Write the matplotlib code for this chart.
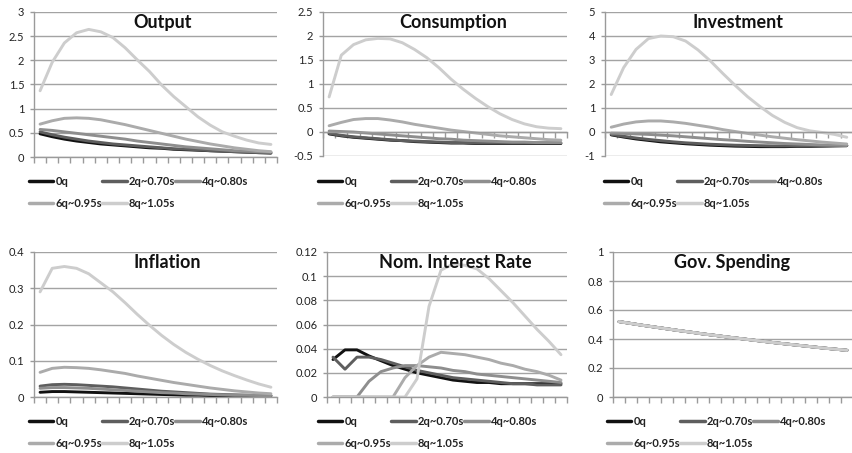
import matplotlib
matplotlib.use("Agg")
import matplotlib.pyplot as plt
from matplotlib.ticker import FuncFormatter

plt.rcParams['font.family'] = ['Lato', 'DejaVu Sans']

periods = list(range(20))
series_labels = ['0q', '2q~0.70s', '4q~0.80s', '6q~0.95s', '8q~1.05s']
series_colors = ['#111111', '#5e5e5e', '#8e8e8e', '#ababab', '#cdcdcd']

# Output
out_0q = [0.48, 0.42, 0.37, 0.33, 0.30, 0.27, 0.25, 0.23, 0.21, 0.19, 0.18, 0.16, 0.15, 0.14, 0.13, 0.12, 0.11, 0.10, 0.09, 0.08]
out_2q = [0.52, 0.46, 0.41, 0.37, 0.33, 0.30, 0.27, 0.25, 0.23, 0.21, 0.19, 0.17, 0.16, 0.15, 0.13, 0.12, 0.11, 0.10, 0.09, 0.09]
out_4q = [0.57, 0.55, 0.52, 0.49, 0.46, 0.43, 0.40, 0.37, 0.33, 0.30, 0.27, 0.24, 0.21, 0.19, 0.17, 0.15, 0.13, 0.12, 0.11, 0.10]
out_6q = [0.68, 0.75, 0.80, 0.81, 0.80, 0.77, 0.72, 0.67, 0.61, 0.55, 0.49, 0.43, 0.37, 0.32, 0.27, 0.23, 0.19, 0.16, 0.13, 0.11]
out_8q = [1.37, 1.96, 2.36, 2.57, 2.64, 2.59, 2.47, 2.26, 2.01, 1.77, 1.49, 1.25, 1.04, 0.83, 0.66, 0.52, 0.43, 0.35, 0.29, 0.26]

# Consumption
con_0q = [-0.04, -0.08, -0.11, -0.13, -0.15, -0.17, -0.18, -0.20, -0.21, -0.22, -0.23, -0.23, -0.24, -0.24, -0.24, -0.24, -0.24, -0.24, -0.24, -0.24]
con_2q = [-0.03, -0.07, -0.10, -0.12, -0.14, -0.16, -0.18, -0.19, -0.20, -0.21, -0.22, -0.22, -0.23, -0.23, -0.23, -0.23, -0.23, -0.23, -0.23, -0.23]
con_4q = [0.02, 0.01, 0.00, -0.02, -0.04, -0.06, -0.08, -0.10, -0.12, -0.14, -0.15, -0.17, -0.18, -0.19, -0.20, -0.21, -0.21, -0.22, -0.22, -0.22]
con_6q = [0.13, 0.20, 0.26, 0.28, 0.28, 0.25, 0.21, 0.16, 0.12, 0.08, 0.04, 0.01, -0.02, -0.05, -0.08, -0.10, -0.12, -0.14, -0.16, -0.17]
con_8q = [0.73, 1.60, 1.82, 1.92, 1.95, 1.94, 1.86, 1.72, 1.55, 1.34, 1.10, 0.89, 0.70, 0.53, 0.38, 0.26, 0.17, 0.11, 0.08, 0.07]

# Investment
inv_0q = [-0.12, -0.21, -0.29, -0.35, -0.41, -0.45, -0.49, -0.52, -0.55, -0.57, -0.59, -0.60, -0.61, -0.61, -0.61, -0.60, -0.60, -0.59, -0.58, -0.57]
inv_2q = [-0.10, -0.18, -0.25, -0.31, -0.36, -0.41, -0.45, -0.48, -0.51, -0.53, -0.55, -0.56, -0.57, -0.58, -0.58, -0.58, -0.58, -0.58, -0.57, -0.57]
inv_4q = [-0.05, -0.06, -0.08, -0.10, -0.13, -0.16, -0.20, -0.24, -0.28, -0.32, -0.35, -0.39, -0.42, -0.45, -0.48, -0.50, -0.52, -0.54, -0.55, -0.56]
inv_6q = [0.20, 0.33, 0.42, 0.46, 0.46, 0.42, 0.36, 0.28, 0.20, 0.10, 0.02, -0.06, -0.13, -0.20, -0.26, -0.32, -0.37, -0.42, -0.46, -0.50]
inv_8q = [1.56, 2.68, 3.44, 3.89, 4.00, 3.97, 3.79, 3.42, 2.96, 2.44, 1.94, 1.47, 1.06, 0.69, 0.40, 0.18, 0.05, -0.02, -0.10, -0.22]

# Inflation
inf_0q = [0.013, 0.015, 0.015, 0.014, 0.013, 0.012, 0.011, 0.010, 0.009, 0.008, 0.007, 0.006, 0.005, 0.005, 0.004, 0.004, 0.003, 0.003, 0.003, 0.003]
inf_2q = [0.030, 0.034, 0.035, 0.034, 0.032, 0.030, 0.028, 0.025, 0.022, 0.019, 0.016, 0.014, 0.012, 0.010, 0.008, 0.007, 0.006, 0.005, 0.004, 0.004]
inf_4q = [0.024, 0.026, 0.026, 0.025, 0.024, 0.022, 0.020, 0.018, 0.016, 0.014, 0.012, 0.011, 0.009, 0.008, 0.007, 0.006, 0.005, 0.005, 0.004, 0.004]
inf_6q = [0.068, 0.079, 0.082, 0.081, 0.079, 0.075, 0.070, 0.065, 0.058, 0.052, 0.046, 0.040, 0.035, 0.030, 0.025, 0.021, 0.017, 0.014, 0.011, 0.009]
inf_8q = [0.290, 0.355, 0.360, 0.355, 0.340, 0.315, 0.290, 0.260, 0.228, 0.198, 0.170, 0.145, 0.123, 0.104, 0.087, 0.072, 0.059, 0.047, 0.036, 0.027]

# Nominal interest rate
nir_0q = [0.031, 0.039, 0.039, 0.034, 0.030, 0.026, 0.023, 0.020, 0.018, 0.016, 0.014, 0.013, 0.012, 0.012, 0.011, 0.011, 0.011, 0.011, 0.011, 0.011]
nir_2q = [0.033, 0.023, 0.033, 0.033, 0.031, 0.028, 0.025, 0.022, 0.020, 0.018, 0.016, 0.015, 0.014, 0.013, 0.012, 0.011, 0.011, 0.010, 0.010, 0.010]
nir_4q = [0.0, 0.0, 0.0, 0.013, 0.021, 0.024, 0.026, 0.026, 0.025, 0.024, 0.022, 0.021, 0.019, 0.018, 0.017, 0.016, 0.015, 0.014, 0.013, 0.012]
nir_6q = [0.0, 0.0, 0.0, 0.0, 0.0, 0.0, 0.016, 0.026, 0.033, 0.037, 0.036, 0.035, 0.033, 0.031, 0.028, 0.026, 0.023, 0.021, 0.018, 0.014]
nir_8q = [0.0, 0.0, 0.0, 0.0, 0.0, 0.0, 0.0, 0.015, 0.075, 0.105, 0.110, 0.109, 0.106, 0.098, 0.088, 0.078, 0.067, 0.056, 0.046, 0.035]

# Government spending (identical for all scenarios)
gov_all = [0.520, 0.507, 0.494, 0.482, 0.470, 0.458, 0.447, 0.435, 0.425, 0.414, 0.404, 0.394, 0.384, 0.374, 0.365, 0.356, 0.347, 0.338, 0.330, 0.322]

titles = ['Output', 'Consumption', 'Investment', 'Inflation', 'Nom. Interest Rate', 'Gov. Spending']
panel_series = [
    [out_0q, out_2q, out_4q, out_6q, out_8q],
    [con_0q, con_2q, con_4q, con_6q, con_8q],
    [inv_0q, inv_2q, inv_4q, inv_6q, inv_8q],
    [inf_0q, inf_2q, inf_4q, inf_6q, inf_8q],
    [nir_0q, nir_2q, nir_4q, nir_6q, nir_8q],
    [gov_all, gov_all, gov_all, gov_all, gov_all],
]
y_ticks = [
    [0, 0.5, 1, 1.5, 2, 2.5, 3],
    [-0.5, 0, 0.5, 1, 1.5, 2, 2.5],
    [-1, 0, 1, 2, 3, 4, 5],
    [0, 0.1, 0.2, 0.3, 0.4],
    [0, 0.02, 0.04, 0.06, 0.08, 0.1, 0.12],
    [0, 0.2, 0.4, 0.6, 0.8, 1],
]

W, H = 853, 453
fig = plt.figure(figsize=(W / 100, H / 100), dpi=100)

# pixel boxes: left, top, right, bottom
boxes = [
    (34, 12, 277, 157),
    (323, 12, 567, 156),
    (605, 12, 853, 156),
    (34, 252, 277, 397),
    (327, 252, 567, 397),
    (613, 252, 853, 397),
]
title_x = [0.53, 0.533, 0.536, 0.55, 0.533, 0.496]
legend_top = [176, 176, 176, 416, 416, 416]
legend_left = [29, 318, 604, 29, 318, 607]

grid_col = '#a3a3a3'
axis_col = '#9a9a9a'

for k in range(6):
    l, t, r, b = boxes[k]
    ax = fig.add_axes([l / W, 1 - b / H, (r - l) / W, (b - t) / H])
    handles = []
    for s in range(5):
        h, = ax.plot(periods, panel_series[k][s], color=series_colors[s], lw=2.1,
                     label=series_labels[s], solid_capstyle='round')
        handles.append(h)
    yt = y_ticks[k]
    ax.set_ylim(yt[0], yt[-1])
    ax.set_xlim(-0.5, 19.5)
    ax.set_yticks(yt)
    ax.yaxis.set_major_formatter(FuncFormatter(lambda v, p: '%g' % v))
    ax.set_xticks([i - 0.5 for i in range(21)])
    ax.set_xticklabels([])
    ax.yaxis.grid(True, color=grid_col, lw=1.0)
    ax.set_axisbelow(True)
    for sp in ['top', 'right']:
        ax.spines[sp].set_visible(False)
    ax.spines['left'].set_color(axis_col)
    ax.spines['bottom'].set_color(axis_col)
    ax.spines['bottom'].set_position(('data', 0))
    ax.spines['left'].set_linewidth(1.0)
    ax.spines['bottom'].set_linewidth(1.0)
    ax.tick_params(axis='x', direction='out', length=4, color=axis_col, width=1.0)
    ax.tick_params(axis='y', direction='out', length=3, color=axis_col, width=1.0,
                   labelsize=8, labelcolor='#222222', pad=4)
    ax.text(title_x[k], 0.93, titles[k], transform=ax.transAxes, ha='center', va='center',
            fontsize=13, fontweight='bold', color='#111111')
    order = [0, 3, 1, 4, 2]
    leg = ax.legend([handles[i] for i in order], [series_labels[i] for i in order],
                    loc='upper left', bbox_to_anchor=(legend_left[k] / W, 1 - legend_top[k] / H),
                    bbox_transform=fig.transFigure, ncol=3, frameon=False,
                    fontsize=8, handlelength=2.2, handletextpad=0.2, columnspacing=0.0,
                    labelspacing=1.0, borderpad=0, borderaxespad=0)
    for line in leg.get_lines():
        line.set_linewidth(2.5)
    for txt in leg.get_texts():
        txt.set_color('#222222')
        txt.set_fontweight('bold')

fig.savefig('out.png', dpi=100)
